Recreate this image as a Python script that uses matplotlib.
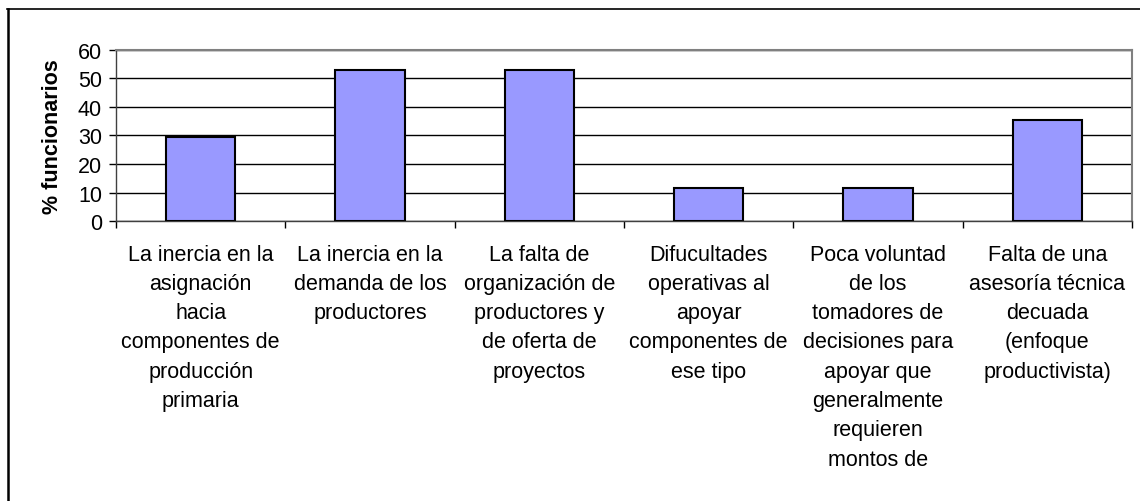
import matplotlib
matplotlib.use("Agg")
import matplotlib.pyplot as plt
from matplotlib.lines import Line2D
import numpy as np

categories = [
    "La inercia en la\nasignación\nhacia\ncomponentes de\nproducción\nprimaria",
    "La inercia en la\ndemanda de los\nproductores",
    "La falta de\norganización de\nproductores y\nde oferta de\nproyectos",
    "Difucultades\noperativas al\napoyar\ncomponentes de\nese tipo",
    "Poca voluntad\nde los\ntomadores de\ndecisiones para\napoyar que\ngeneralmente\nrequieren\nmontos de",
    "Falta de una\nasesoría técnica\ndecuada\n(enfoque\nproductivista)",
]
values = [29.4, 52.9, 52.9, 11.8, 11.8, 35.3]
yticks = [0, 10, 20, 30, 40, 50, 60]
ylabel = "% funcionarios"

plt.rcParams['font.family'] = ['Liberation Sans', 'DejaVu Sans']

W, H = 1140, 502
fig = plt.figure(figsize=(W / 100, H / 100), dpi=100)
fig.patch.set_facecolor("white")

left, right, top, bottom = 116, 1132, 50.5, 222.3
ax = fig.add_axes([left / W, 1 - bottom / H, (right - left) / W, (bottom - top) / H])

x = np.arange(len(categories))
ax.set_axisbelow(True)
ax.yaxis.grid(True, color="black", linewidth=1)
ax.bar(x, values, width=0.41, color="#9999FF", edgecolor="black", linewidth=1.5, zorder=3)

ax.set_xlim(-0.5, len(categories) - 0.5)
ax.set_ylim(0, 60)
ax.set_yticks(yticks)
ax.set_yticklabels([str(t) for t in yticks], fontsize=15.5)
ax.tick_params(axis="y", length=5, width=1, pad=5, color="black")

ax.set_xticks(x)
ax.set_xticklabels(categories, fontsize=15.5, linespacing=1.52, va="top")
ax.tick_params(axis="x", which="major", length=0, pad=16)
ax.set_xticks(np.arange(-0.5, len(categories)), minor=True)
ax.tick_params(axis="x", which="minor", length=5, width=1, color="black")

for s in ["top", "right"]:
    ax.spines[s].set_color("#808080")
    ax.spines[s].set_linewidth(1.5)
for s in ["left", "bottom"]:
    ax.spines[s].set_color("#404040")
    ax.spines[s].set_linewidth(1)

ax.set_ylabel(ylabel, fontsize=15.5, fontweight="bold", labelpad=11)

# outer chart frame (top and left edges visible)
fig.add_artist(Line2D([7 / W, 1.0], [1 - 10 / H, 1 - 10 / H], color="black", linewidth=1.2,
                      transform=fig.transFigure))
fig.add_artist(Line2D([7.5 / W, 7.5 / W], [1 - 10 / H, 0], color="black", linewidth=1.8,
                      transform=fig.transFigure))

fig.savefig("out.png", dpi=100)
